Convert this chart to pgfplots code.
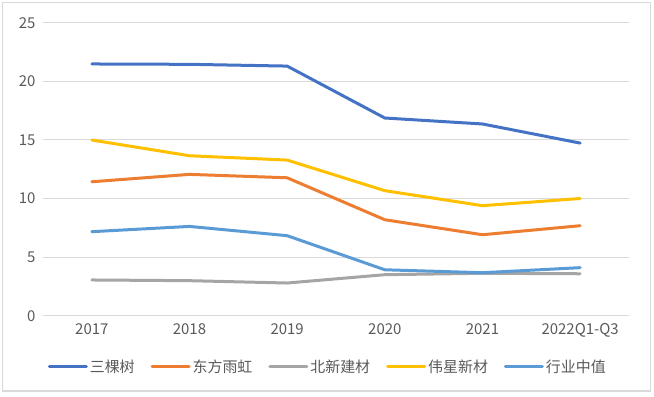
\documentclass[border=0pt]{standalone}
\usepackage{pgfplots}
\pgfplotsset{compat=1.18}
\usepackage{fontspec}
\setmainfont{Noto Sans CJK SC}
\definecolor{cA}{HTML}{4472C4}
\definecolor{cB}{HTML}{ED7D31}
\definecolor{cC}{HTML}{A5A5A5}
\definecolor{cD}{HTML}{FFC000}
\definecolor{cE}{HTML}{5B9BD5}
\definecolor{gridc}{HTML}{D9D9D9}
\definecolor{txt}{HTML}{595959}
\begin{document}
\begin{tikzpicture}[x=1bp,y=1bp]
\path[use as bounding box] (0,0) rectangle (654,396);
\draw[gridc, line width=1.2bp] (2.5,5) rectangle (650.5,393.5);
\begin{axis}[
  at={(44,68.5)}, anchor=south west,
  scale only axis, width=586bp, height=293bp,
  xmin=-0.5, xmax=5.5, ymin=0, ymax=25,
  xtick={0,1,2,3,4,5},
  xticklabels={2017,2018,2019,2020,2021,2022Q1-Q3},
  ytick={0,5,10,15,20,25},
  ymajorgrids, grid style={gridc, line width=1bp},
  axis line style={draw=none},
  major tick length=0pt,
  /pgf/number format/assume math mode=true,
  tick label style={font=\fontsize{15}{17}\selectfont, text=txt},
  yticklabel style={xshift=-4bp},
  xticklabel style={yshift=-4bp},
  legend columns=5,
  legend style={at={(0.486,-0.174)}, anchor=center, draw=none, fill=none,
    font=\fontsize{15}{17}\selectfont, text=txt, inner sep=0pt,
    /tikz/every even column/.append style={column sep=14bp}},
  legend image code/.code={\draw[#1] (0bp,0bp) -- (37bp,0bp);},
  every axis plot/.append style={line width=3bp, line join=round, line cap=round, mark=none},
]
\addplot[cA] coordinates {(0,21.48) (1,21.45) (2,21.3) (3,16.87) (4,16.36) (5,14.73)};
\addlegendentry{三棵树}
\addplot[cB] coordinates {(0,11.43) (1,12.06) (2,11.77) (3,8.19) (4,6.91) (5,7.68)};
\addlegendentry{东方雨虹}
\addplot[cC] coordinates {(0,3.05) (1,2.99) (2,2.79) (3,3.5) (4,3.62) (5,3.58)};
\addlegendentry{北新建材}
\addplot[cD] coordinates {(0,14.99) (1,13.65) (2,13.28) (3,10.67) (4,9.39) (5,10.0)};
\addlegendentry{伟星新材}
\addplot[cE] coordinates {(0,7.17) (1,7.62) (2,6.83) (3,3.92) (4,3.67) (5,4.1)};
\addlegendentry{行业中值}
\end{axis}
\end{tikzpicture}
\end{document}
